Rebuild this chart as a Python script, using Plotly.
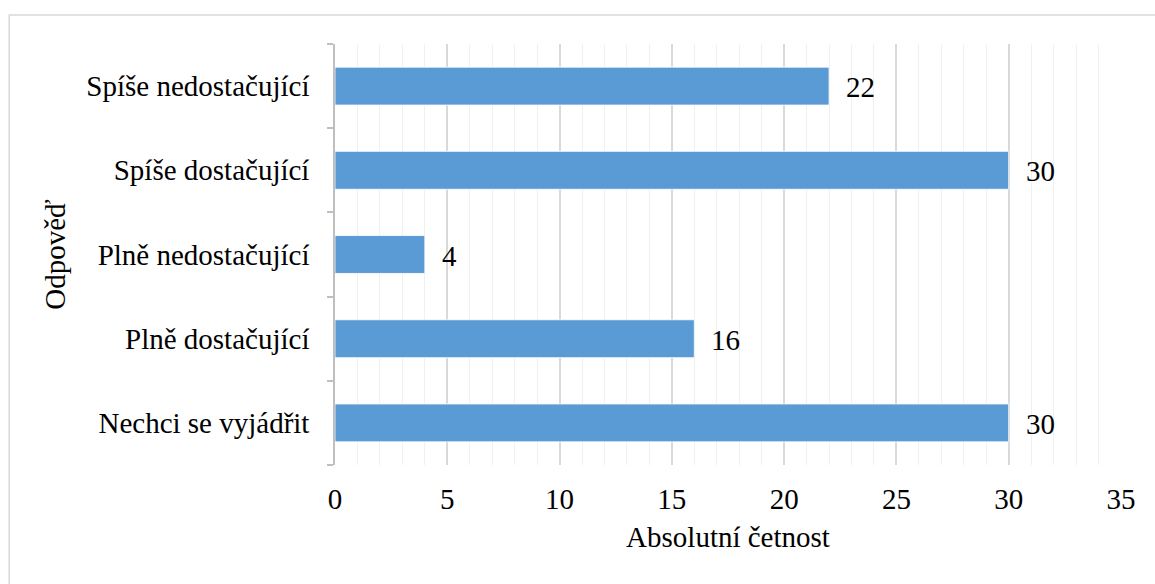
import plotly.graph_objects as go

categories = ["Nechci se vyjádřit", "Plně dostačující", "Plně nedostačující",
              "Spíše dostačující", "Spíše nedostačující"]
values = [30, 16, 4, 30, 22]
x_ticks = [0, 5, 10, 15, 20, 25, 30, 35]

FONT = "Liberation Serif"
FS = 29

W, H = 1155, 584
L, R, T, B = 334.5, 1155 - 1121, 43.5, 584 - 465

fig = go.Figure(go.Bar(
    x=values, y=categories, orientation="h",
    marker=dict(color="#5b9bd5", line=dict(color="#ffffff", width=0.8)),
    width=0.45, hoverinfo="skip",
))

for c, v in zip(categories, values):
    fig.add_annotation(x=v, y=c, text=str(v), showarrow=False,
                       xanchor="left", xshift=15, yshift=-1,
                       font=dict(family=FONT, size=FS, color="black"))

pw = W - L - R
ph = H - T - B
fig.add_shape(type="rect", xref="paper", yref="paper",
              x0=(8.5 - L) / pw, x1=(1170 - L) / pw,
              y0=(H - B - 600) / ph, y1=(H - B - 14.5) / ph,
              line=dict(color="#d9d9d9", width=1.5), layer="below")

fig.update_layout(
    width=W, height=H,
    margin=dict(l=L, r=R, t=T, b=B, pad=0),
    paper_bgcolor="white", plot_bgcolor="white",
    font=dict(family=FONT, size=FS, color="black"),
    showlegend=False,
    xaxis=dict(
        range=[0, 35], tickvals=x_ticks, ticktext=[str(t) for t in x_ticks],
        showgrid=True, gridcolor="#d9d9d9", gridwidth=1.5,
        minor=dict(dtick=1, showgrid=True, gridcolor="#f0f0f0", gridwidth=1.3),
        zeroline=False, showline=False, ticks="",
        ticklabelstandoff=14,
        title=dict(text="Absolutní četnost", standoff=12,
                   font=dict(family=FONT, size=FS, color="black")),
        tickfont=dict(family=FONT, size=FS, color="black"),
    ),
    yaxis=dict(
        categoryorder="array", categoryarray=categories,
        showline=True, linecolor="#bfbfbf", linewidth=1.5,
        ticks="outside", tickson="boundaries", ticklen=6, tickcolor="#bfbfbf",
        tickwidth=1.5, showgrid=False, zeroline=False,
        ticklabelstandoff=18,
        title=dict(text="Odpověď", standoff=12,
                   font=dict(family=FONT, size=FS, color="black")),
        tickfont=dict(family=FONT, size=FS, color="black"),
    ),
)

fig.write_html("out.html", config={"displayModeBar": False},
               post_script="document.body.style.margin='0';")
